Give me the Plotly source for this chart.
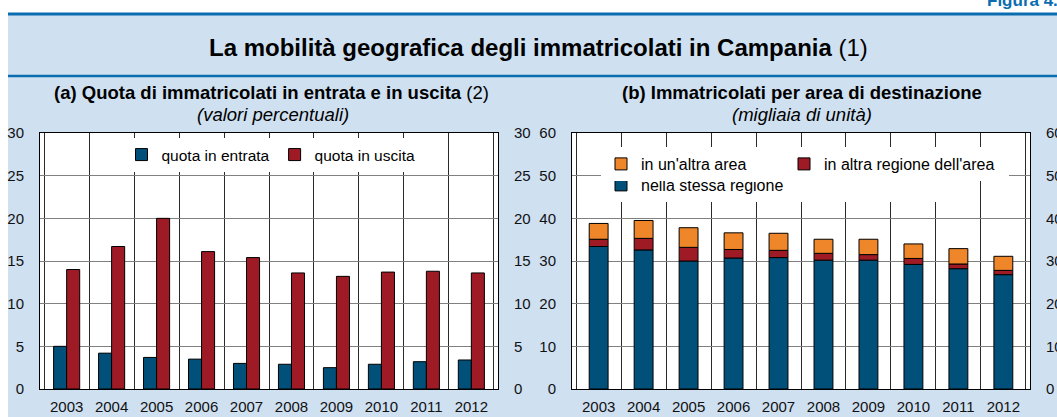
import numpy as np
import plotly.graph_objects as go

# ---------------- data ----------------
years = ["2003", "2004", "2005", "2006", "2007", "2008", "2009", "2010", "2011", "2012"]

# (a) quota di immatricolati (valori percentuali)
quota_entrata = [5.0, 4.2, 3.7, 3.5, 3.0, 2.9, 2.5, 2.9, 3.2, 3.4]
quota_uscita = [14.0, 16.7, 20.0, 16.1, 15.4, 13.6, 13.2, 13.7, 13.8, 13.6]

# (b) immatricolati per area di destinazione (migliaia di unità)
stessa_regione = [33.4, 32.6, 30.0, 30.7, 30.8, 30.2, 30.2, 29.2, 28.2, 26.8]
altra_regione_area = [1.7, 2.7, 3.2, 2.0, 1.7, 1.6, 1.3, 1.4, 1.1, 1.0]
altra_area = [3.7, 4.2, 4.6, 3.9, 4.0, 3.3, 3.6, 3.4, 3.6, 3.3]

left_ticks = [0, 5, 10, 15, 20, 25, 30]
right_ticks = [0, 10, 20, 30, 40, 50, 60]

# ---------------- style ----------------
BLUE = "#00507a"
RED = "#9e1b26"
ORANGE = "#f0862a"
BG = "#cfe0f1"
LINE_BLUE = "#0a6db0"
FONT = "Arial, Liberation Sans, sans-serif"

W, H = 1057, 417
ML, MR, MT, MB = 40, 27, 133, 28
GW, GH = W - ML - MR, H - MT - MB


def px_x(x):
    return (x - ML) / GW


def px_y(y):
    return (H - MB - y) / GH


fig = go.Figure()

outline = dict(color="#000000", width=1)

fig.add_trace(go.Bar(x=years, y=quota_entrata, name="quota in entrata",
                     marker=dict(color=BLUE, line=outline),
                     xaxis="x", yaxis="y", legend="legend"))
fig.add_trace(go.Bar(x=years, y=quota_uscita, name="quota in uscita",
                     marker=dict(color=RED, line=outline),
                     xaxis="x", yaxis="y", legend="legend"))
# invisible companion so that the mirrored right-hand scale is drawn
fig.add_trace(go.Scatter(x=years, y=quota_uscita, xaxis="x", yaxis="y3", mode="markers",
                         marker=dict(opacity=0), showlegend=False, hoverinfo="skip"))

base1 = np.array(stessa_regione)
base2 = base1 + np.array(altra_regione_area)
bw = 0.42
fig.add_trace(go.Bar(x=years, y=stessa_regione, name="nella stessa regione",
                     marker=dict(color=BLUE, line=outline), width=bw,
                     offsetgroup="b", xaxis="x2", yaxis="y2", legend="legend3"))
fig.add_trace(go.Bar(x=years, y=altra_regione_area, base=base1, name="in altra regione dell'area",
                     marker=dict(color=RED, line=outline), width=bw,
                     offsetgroup="b", xaxis="x2", yaxis="y2", legend="legend2",
                     legendrank=2, legendwidth=180))
fig.add_trace(go.Bar(x=years, y=altra_area, base=base2, name="in un'altra area",
                     marker=dict(color=ORANGE, line=outline), width=bw,
                     offsetgroup="b", xaxis="x2", yaxis="y2", legend="legend2",
                     legendrank=1, legendwidth=138))
fig.add_trace(go.Scatter(x=years, y=stessa_regione, xaxis="x2", yaxis="y4", mode="markers",
                         marker=dict(opacity=0), showlegend=False, hoverinfo="skip"))

tickfont = dict(family=FONT, size=15, color="#111111")

xcommon = dict(type="category", tickson="boundaries", showgrid=True, gridcolor="#2a2a2a",
               gridwidth=1, showline=True, linecolor="#000000", linewidth=1, mirror=True,
               ticks="", tickfont=tickfont, ticklabelstandoff=4, fixedrange=True,
               automargin=False)
ycommon = dict(gridcolor="#808080", gridwidth=1, zeroline=False,
               showline=True, linecolor="#000000", linewidth=1, ticks="",
               tickfont=tickfont, ticklabelstandoff=12, fixedrange=True, automargin=False)

dom_a = [0, px_x(498)]
dom_b = [px_x(572), 1]

fig.update_layout(
    width=W, height=H,
    margin=dict(l=ML, r=MR, t=MT, b=MB, pad=0, autoexpand=False),
    paper_bgcolor=BG, plot_bgcolor="#ffffff",
    barmode="group", bargap=0.42, bargroupgap=0,
    font=dict(family=FONT, size=15, color="#000000"),
    xaxis=dict(domain=dom_a, anchor="y", **xcommon),
    xaxis2=dict(domain=dom_b, anchor="y2", **xcommon),
    yaxis=dict(domain=[0, 1], anchor="x", range=[0, 30], tickvals=left_ticks, side="left",
               showgrid=True, **ycommon),
    yaxis3=dict(overlaying="y", anchor="x", side="right", range=[0, 30], tickvals=left_ticks,
                showgrid=False, **ycommon),
    yaxis2=dict(domain=[0, 1], anchor="x2", range=[0, 60], tickvals=right_ticks, side="left",
                showgrid=True, **ycommon),
    yaxis4=dict(overlaying="y2", anchor="x2", side="right", range=[0, 60], tickvals=right_ticks,
                showgrid=False, **ycommon),
    legend=dict(orientation="h", x=px_x(271), xanchor="center", y=px_y(155), yanchor="middle",
                bgcolor="#ffffff", borderwidth=0, font=dict(family=FONT, size=15.5, color="#000000"),
                itemwidth=30, tracegroupgap=0),
    legend2=dict(orientation="h", x=px_x(601), xanchor="left", y=px_y(164), yanchor="middle",
                 bgcolor="#ffffff", borderwidth=0, font=dict(family=FONT, size=16, color="#000000"),
                 itemwidth=30),
    legend3=dict(orientation="h", x=px_x(601), xanchor="left", y=px_y(185), yanchor="middle",
                 bgcolor="#ffffff", borderwidth=0, font=dict(family=FONT, size=16, color="#000000"),
                 entrywidth=330, itemwidth=30),
    showlegend=True,
    hovermode=False,
)

shapes = [
    dict(type="rect", xref="paper", yref="paper", x0=px_x(-2), x1=px_x(W + 2), y0=px_y(13), y1=px_y(-2),
         fillcolor="#ffffff", line=dict(width=0), layer="below"),
    dict(type="rect", xref="paper", yref="paper", x0=px_x(-2), x1=px_x(8), y0=px_y(H + 2), y1=px_y(-2),
         fillcolor="#ffffff", line=dict(width=0), layer="below"),
    dict(type="line", xref="paper", yref="paper", x0=px_x(8), x1=px_x(W + 2), y0=px_y(14), y1=px_y(14),
         line=dict(color=LINE_BLUE, width=3), layer="below"),
    dict(type="line", xref="paper", yref="paper", x0=px_x(8), x1=px_x(W + 2), y0=px_y(76), y1=px_y(76),
         line=dict(color=LINE_BLUE, width=2.5), layer="below"),
]
fig.update_layout(shapes=shapes)

ann = [
    dict(text="<b>Figura 4.1</b>", x=px_x(985), y=px_y(0), xanchor="left", yanchor="middle",
         font=dict(family=FONT, size=17, color=LINE_BLUE)),
    dict(text="<b>La mobilità geografica degli immatricolati in Campania</b> (1)",
         x=px_x(538), y=px_y(47), xanchor="center", yanchor="middle",
         font=dict(family=FONT, size=24, color="#000000")),
    dict(text="<b>(a) Quota di immatricolati in entrata e in uscita</b> (2)",
         x=px_x(271), y=px_y(92), xanchor="center", yanchor="middle",
         font=dict(family=FONT, size=18.5, color="#000000")),
    dict(text="<i>(valori percentuali)</i>",
         x=px_x(273), y=px_y(114), xanchor="center", yanchor="middle",
         font=dict(family=FONT, size=18.5, color="#000000")),
    dict(text="<b>(b) Immatricolati per area di destinazione</b>",
         x=px_x(802), y=px_y(92), xanchor="center", yanchor="middle",
         font=dict(family=FONT, size=18.5, color="#000000")),
    dict(text="<i>(migliaia di unità)</i>",
         x=px_x(802), y=px_y(114), xanchor="center", yanchor="middle",
         font=dict(family=FONT, size=18.5, color="#000000")),
]
for a in ann:
    a.update(xref="paper", yref="paper", showarrow=False)
fig.update_layout(annotations=ann)

fig.write_html("out.html", config={"displayModeBar": False, "staticPlot": True},
               post_script="document.body.style.margin='0';document.body.style.overflow='hidden';")
